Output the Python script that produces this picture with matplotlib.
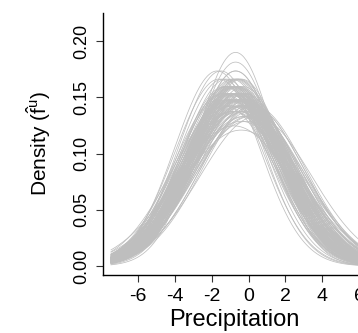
import numpy as np
import matplotlib
matplotlib.use("Agg")
import matplotlib.pyplot as plt

plt.rcParams['font.family'] = ['Liberation Sans', 'DejaVu Sans']
plt.rcParams['mathtext.fontset'] = 'custom'
plt.rcParams['mathtext.rm'] = 'Liberation Sans'
plt.rcParams['mathtext.it'] = 'Liberation Sans'

# per-curve centre and spread of the bootstrap density estimates
centers = [-0.7, -0.5, -0.9, -0.3, -1.1, -0.6, -0.8, -0.4, -1.3, -0.2,
           -0.7, -1.0, -0.5, -0.1, -0.9, -0.6, -1.5, -0.3, -0.8, -0.4,
           -1.2, 0.0, -0.7, -0.5, -1.0, -0.6, -0.2, -0.9, -1.4, -0.3,
           -0.7, -0.8, -0.5, 0.2, -1.1, -0.6, -0.4, -0.9, -1.7, -0.2,
           -0.7, -0.5, -1.0, -0.3, -0.8, 0.1, -0.6, -1.2, -0.4, -0.9,
           -0.7, -0.1, -1.3, -0.5, -0.8, -0.6, 0.3, -1.0, -0.4, -0.7,
           -1.6, -0.2, -0.9, -0.5, -1.1, -0.3, -0.8, -0.6, 0.0, -1.2,
           -0.7, -0.4, -1.0, -0.5, -0.8, -0.2, -1.4, -0.6, -0.9, -0.3,
           -0.4, -0.8, 0.1, -1.0, -0.6, -0.2, -0.7, -1.2, -0.5, 0.4,
           -0.9, -0.3, -0.6, -1.1, -0.1, -0.8, -0.5, -1.3, -0.4, -0.7,
           0.2, -0.6, -0.9, -0.2, -1.0, -0.5, -0.3, -0.8, 0.0, -0.6]
spreads = [2.6, 2.7, 2.5, 2.8, 2.6, 2.4, 2.9, 2.7, 2.5, 3.0,
           2.3, 2.6, 2.8, 2.7, 2.5, 2.9, 2.3, 2.6, 2.7, 3.1,
           2.5, 2.8, 2.1, 2.6, 2.7, 2.5, 2.9, 2.4, 2.6, 2.8,
           2.7, 3.2, 2.5, 2.8, 2.6, 2.7, 2.4, 2.9, 2.3, 2.6,
           2.2, 2.7, 2.8, 2.5, 2.6, 3.0, 2.7, 2.4, 2.6, 2.8,
           2.5, 2.7, 2.6, 2.9, 2.4, 2.6, 2.8, 2.7, 3.3, 2.5,
           2.4, 2.7, 2.6, 2.8, 2.5, 2.9, 2.6, 2.7, 3.0, 2.5,
           2.3, 2.8, 2.6, 2.7, 2.5, 2.8, 2.4, 2.6, 2.9, 2.7,
           2.7, 2.5, 2.9, 2.6, 2.8, 2.6, 2.4, 2.7, 2.9, 3.0,
           2.6, 2.8, 2.5, 2.7, 3.1, 2.6, 2.4, 2.8, 2.7, 2.5,
           2.8, 2.6, 2.7, 2.9, 2.5, 2.6, 3.0, 2.7, 2.8, 2.4]

x_ticks = [-6, -4, -2, 0, 2, 4, 6]
y_ticks = [0.00, 0.05, 0.10, 0.15, 0.20]

fig = plt.figure(figsize=(3.58, 3.33), dpi=100)
ax = fig.add_axes([0.288, 0.174, 0.732, 0.787])

xs = np.linspace(-7.45, 7.0, 400)
for mu, sd in zip(centers, spreads):
    dens = np.exp(-0.5 * ((xs - mu) / sd) ** 2) / (sd * np.sqrt(2 * np.pi))
    ax.plot(xs, dens, color='#BEBEBE', lw=0.55)

ax.set_xlim(-7.88, 6.32)
ax.set_ylim(-0.008, 0.225)
ax.set_xticks(x_ticks)
ax.set_xticklabels([str(v) for v in x_ticks], fontsize=14)
ax.set_yticks(y_ticks)
ax.set_yticklabels([f'{v:.2f}' for v in y_ticks], fontsize=13, rotation=90, va='center')
ax.tick_params(direction='out', length=5, width=0.8, colors='#333333', labelcolor='black', pad=4)

for s in ['top', 'right']:
    ax.spines[s].set_visible(False)
for s in ['left', 'bottom']:
    ax.spines[s].set_linewidth(1.0)

ax.set_xlabel('Precipitation', fontsize=17, labelpad=3)
ax.set_ylabel(r'Density ($\hat{\mathrm{f}}^{\mathrm{u}}$)', fontsize=15, labelpad=15)

fig.savefig('out.png', dpi=100)
